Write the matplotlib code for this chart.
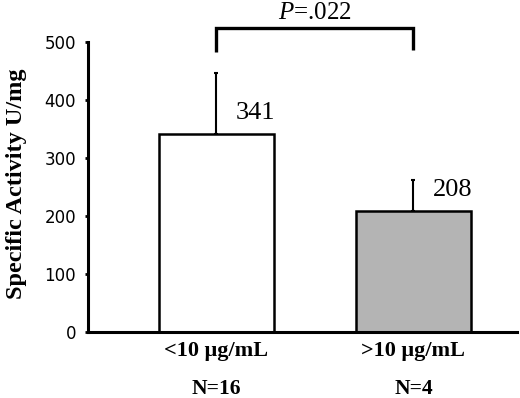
import numpy as np
import matplotlib
matplotlib.use("Agg")
import matplotlib.pyplot as plt
import matplotlib.transforms as mtransforms

groups = ["<10 \u03bcg/mL", ">10 \u03bcg/mL"]
counts = ["N=16", "N=4"]
activity = [341, 208]
err_up = [105, 53]
colors = ["white", "#b4b4b4"]
p_value = "=.022"

serif = ["Liberation Serif", "DejaVu Serif"]
plt.rcParams["mathtext.fontset"] = "custom"
plt.rcParams["mathtext.it"] = "Liberation Serif:italic"
plt.rcParams["mathtext.rm"] = "Liberation Serif"

fig = plt.figure(figsize=(5.2, 3.98), dpi=100)
ax = fig.add_axes([0.169, 0.1666, 0.825, 0.7286])

x = np.arange(len(groups))
ax.bar(x, activity, width=0.58, color=colors, edgecolor="black", linewidth=1.8, zorder=2)
ax.errorbar(x, activity, yerr=[np.zeros(len(x)), err_up], fmt="none", ecolor="black",
            elinewidth=1.5, capsize=1.5, capthick=1.5, zorder=1)

for i in range(len(x)):
	ax.text(x[i] + 0.1, activity[i] + 36, str(activity[i]), fontsize=19,
	        family=serif, va="center", ha="left")

# significance bracket
top = 523
ax.plot([x[0], x[0], x[1], x[1]], [483, top, top, 485], color="black", lw=2.4,
        clip_on=False, solid_joinstyle="miter", solid_capstyle="butt")
ax.text((x[0] + x[1]) / 2, 550, "$\\mathit{P}$" + p_value, fontsize=18, family=serif,
        ha="center", va="center")

ax.set_xlim(-0.652, 1.525)
ax.set_ylim(0, 500)
ax.set_yticks([0, 100, 200, 300, 400, 500])
ax.tick_params(axis="y", length=2.5, width=2, pad=6, labelsize=12)
ax.tick_params(axis="x", length=0, pad=7)
ax.set_xticks(x)
ax.set_xticklabels(groups, fontsize=16, fontweight="bold", family=serif)

trans = mtransforms.blended_transform_factory(ax.transData, ax.transAxes)
for i in range(len(x)):
	ax.text(x[i], -0.196, counts[i], transform=trans, fontsize=15.5, fontweight="bold",
	        family=serif, ha="center", va="center")

ax.spines["top"].set_visible(False)
ax.spines["right"].set_visible(False)
ax.spines["left"].set_linewidth(2.2)
ax.spines["bottom"].set_linewidth(2.2)

ax.set_ylabel("Specific Activity U/mg", fontsize=17.5, fontweight="bold", family=serif)
ax.yaxis.set_label_coords(-0.143, 0.51)

fig.savefig("out.png", dpi=100)
